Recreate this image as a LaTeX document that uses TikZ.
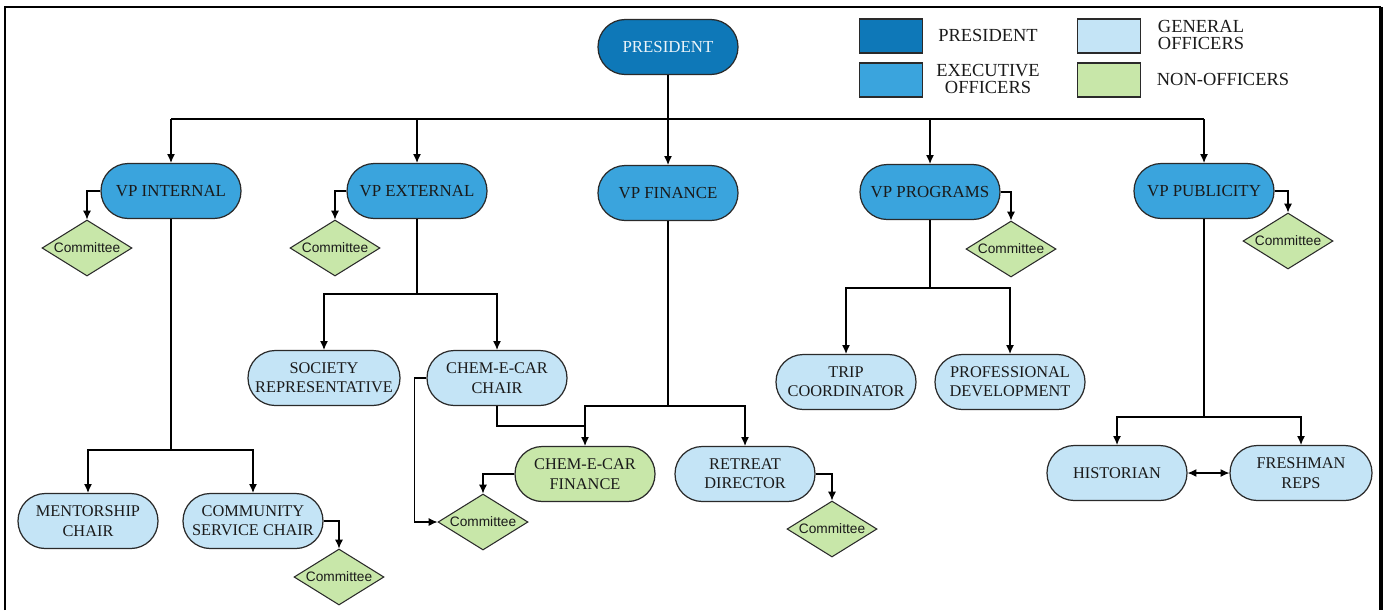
\documentclass[tikz,border=0pt]{standalone}
\usepackage{fontspec}
\setmainfont{Liberation Serif}
\newfontfamily\cfont{Liberation Sans}
\usetikzlibrary{shapes.geometric,arrows.meta}
\definecolor{cpres}{HTML}{0E78B8}
\definecolor{cexec}{HTML}{3AA4DD}
\definecolor{cgen}{HTML}{C4E4F6}
\definecolor{cnon}{HTML}{C8E7A9}
\definecolor{cline}{HTML}{2A2A2A}
\definecolor{ctext}{HTML}{1A1A1A}
\begin{document}
\begin{tikzpicture}[x=0.02cm,y=-0.02cm,
  pill/.style={draw=cline, line width=0.7pt, rounded corners=15.5pt, minimum width=2.8cm, minimum height=1.1cm, align=center, inner sep=1pt, text=ctext, font=\fontsize{9.3}{11}\selectfont},
  pres/.style={pill, fill=cpres, text=white!92!cpres, font=\fontsize{9.6}{11}\selectfont},
  exec/.style={pill, fill=cexec, font=\fontsize{9.6}{11}\selectfont},
  gen/.style={pill, fill=cgen},
  non/.style={pill, fill=cnon},
  comm/.style={diamond, draw=cline, fill=cnon, line width=0.6pt, minimum width=1.8cm, minimum height=1.12cm, aspect=1.6, inner sep=0pt, text=ctext, font=\cfont\fontsize{7.8}{9}\selectfont},
  conn/.style={draw=black, line width=0.6pt},
  arr/.style={conn, -{Latex[length=5pt,width=4.5pt]}},
  dbl/.style={conn, {Latex[length=5pt,width=4.5pt]}-{Latex[length=5pt,width=4.5pt]}},
  legbox/.style={draw=cline, line width=0.7pt, minimum width=1.26cm, minimum height=0.68cm, inner sep=0pt},
  legtext/.style={text=ctext, align=center, font=\fontsize{10.5}{10}\selectfont, inner sep=0pt}
]
\useasboundingbox (0,0) rectangle (1389,610);
% frame
\draw[line width=1pt] (5,610) -- (5,7) -- (1381,7);
\draw[line width=2pt] (1381,7) -- (1381,610);

% legend
\node[legbox, fill=cpres] (lp) at (891,36) {};
\node[legbox, fill=cexec] (le) at (891,80) {};
\node[legbox, fill=cgen] (lg) at (1109,36) {};
\node[legbox, fill=cnon] (ln) at (1109,80) {};
\node[legtext] (lpt) at (988,35) {PRESIDENT};
\node[legtext] (let) at (988,79) {EXECUTIVE\\OFFICERS};
\node[legtext] (lgt) at (1201,35) {GENERAL\\OFFICERS};
\node[legtext] (lnt) at (1223,79) {NON-OFFICERS};

% nodes
\node[pres] (pr) at (668,47) {PRESIDENT};
\node[exec] (vpi) at (171,191) {VP INTERNAL};
\node[exec] (vpe) at (417,191) {VP EXTERNAL};
\node[exec] (vpf) at (668,193) {VP FINANCE};
\node[exec] (vpp) at (930,192) {VP PROGRAMS};
\node[exec] (vpu) at (1204,191) {VP PUBLICITY};

\node[comm] (ci) at (87,248) {Committee};
\node[comm] (ce) at (335,248) {Committee};
\node[comm] (cp) at (1011,249) {Committee};
\node[comm] (cu) at (1288,241) {Committee};

\node[gen, minimum width=3.04cm] (soc) at (324,378) {SOCIETY\\REPRESENTATIVE};
\node[gen] (cc) at (497,378) {CHEM-E-CAR\\CHAIR};
\node[non] (cf) at (585,474) {CHEM-E-CAR\\FINANCE};
\node[gen] (rd) at (745,474) {RETREAT\\DIRECTOR};
\node[comm] (ccf) at (483,522) {Committee};
\node[comm] (crd) at (832,529) {Committee};

\node[gen] (mc) at (88,521) {MENTORSHIP\\CHAIR};
\node[gen] (cs) at (253,521) {COMMUNITY\\SERVICE CHAIR};
\node[comm] (ccs) at (339,577) {Committee};

\node[gen] (tc) at (846,382) {TRIP\\COORDINATOR};
\node[gen, minimum width=3cm] (pd) at (1010,382) {PROFESSIONAL\\DEVELOPMENT};

\node[gen] (hi) at (1117,473) {HISTORIAN};
\node[gen, minimum width=2.84cm] (fr) at (1301,473) {FRESHMAN\\REPS};

% bus from president
\coordinate (bus) at (668,119);
\draw[arr] (pr.south) -- (vpf.north);
\draw[conn] (vpi.north |- bus) -- (vpu.north |- bus);
\draw[arr] (vpi.north |- bus) -- (vpi.north);
\draw[arr] (vpe.north |- bus) -- (vpe.north);
\draw[arr] (vpp.north |- bus) -- (vpp.north);
\draw[arr] (vpu.north |- bus) -- (vpu.north);

% committees of VPs
\draw[arr] (vpi.west) -| (ci.north);
\draw[arr] (vpe.west) -| (ce.north);
\draw[arr] (vpp.east) -| (cp.north);
\draw[arr] (vpu.east) -| (cu.north);

% VP internal branch
\coordinate (ib) at (171,450);
\draw[conn] (vpi.south) -- (ib);
\draw[arr] (ib) -| (mc.north);
\draw[arr] (ib) -| (cs.north);
\draw[arr] (cs.east) -| (ccs.north);

% VP external branch
\coordinate (eb) at (417,294);
\draw[conn] (vpe.south) -- (eb);
\draw[arr] (eb) -| (soc.north);
\draw[arr] (eb) -| (cc.north);

% VP finance branch
\coordinate (fb) at (668,406);
\coordinate (cj) at (585,426);
\draw[conn] (vpf.south) -- (fb);
\draw[arr] (fb) -| (cf.north);
\draw[arr] (fb) -| (rd.north);
\draw[conn] (cc.south) |- (cj);
\draw[arr] (cf.west) -| (ccf.north);
\draw[arr] (cc.west) -- ++(-12,0) |- (ccf.west);
\draw[arr] (rd.east) -| (crd.north);

% VP programs branch
\coordinate (pb) at (930,288);
\draw[conn] (vpp.south) -- (pb);
\draw[arr] (pb) -| (tc.north);
\draw[arr] (pb) -| (pd.north);

% VP publicity branch
\coordinate (ub) at (1204,417);
\draw[conn] (vpu.south) -- (ub);
\draw[arr] (ub) -| (hi.north);
\draw[arr] (ub) -| (fr.north);
\draw[dbl] (hi.east) -- (fr.west);
\end{tikzpicture}
\end{document}
